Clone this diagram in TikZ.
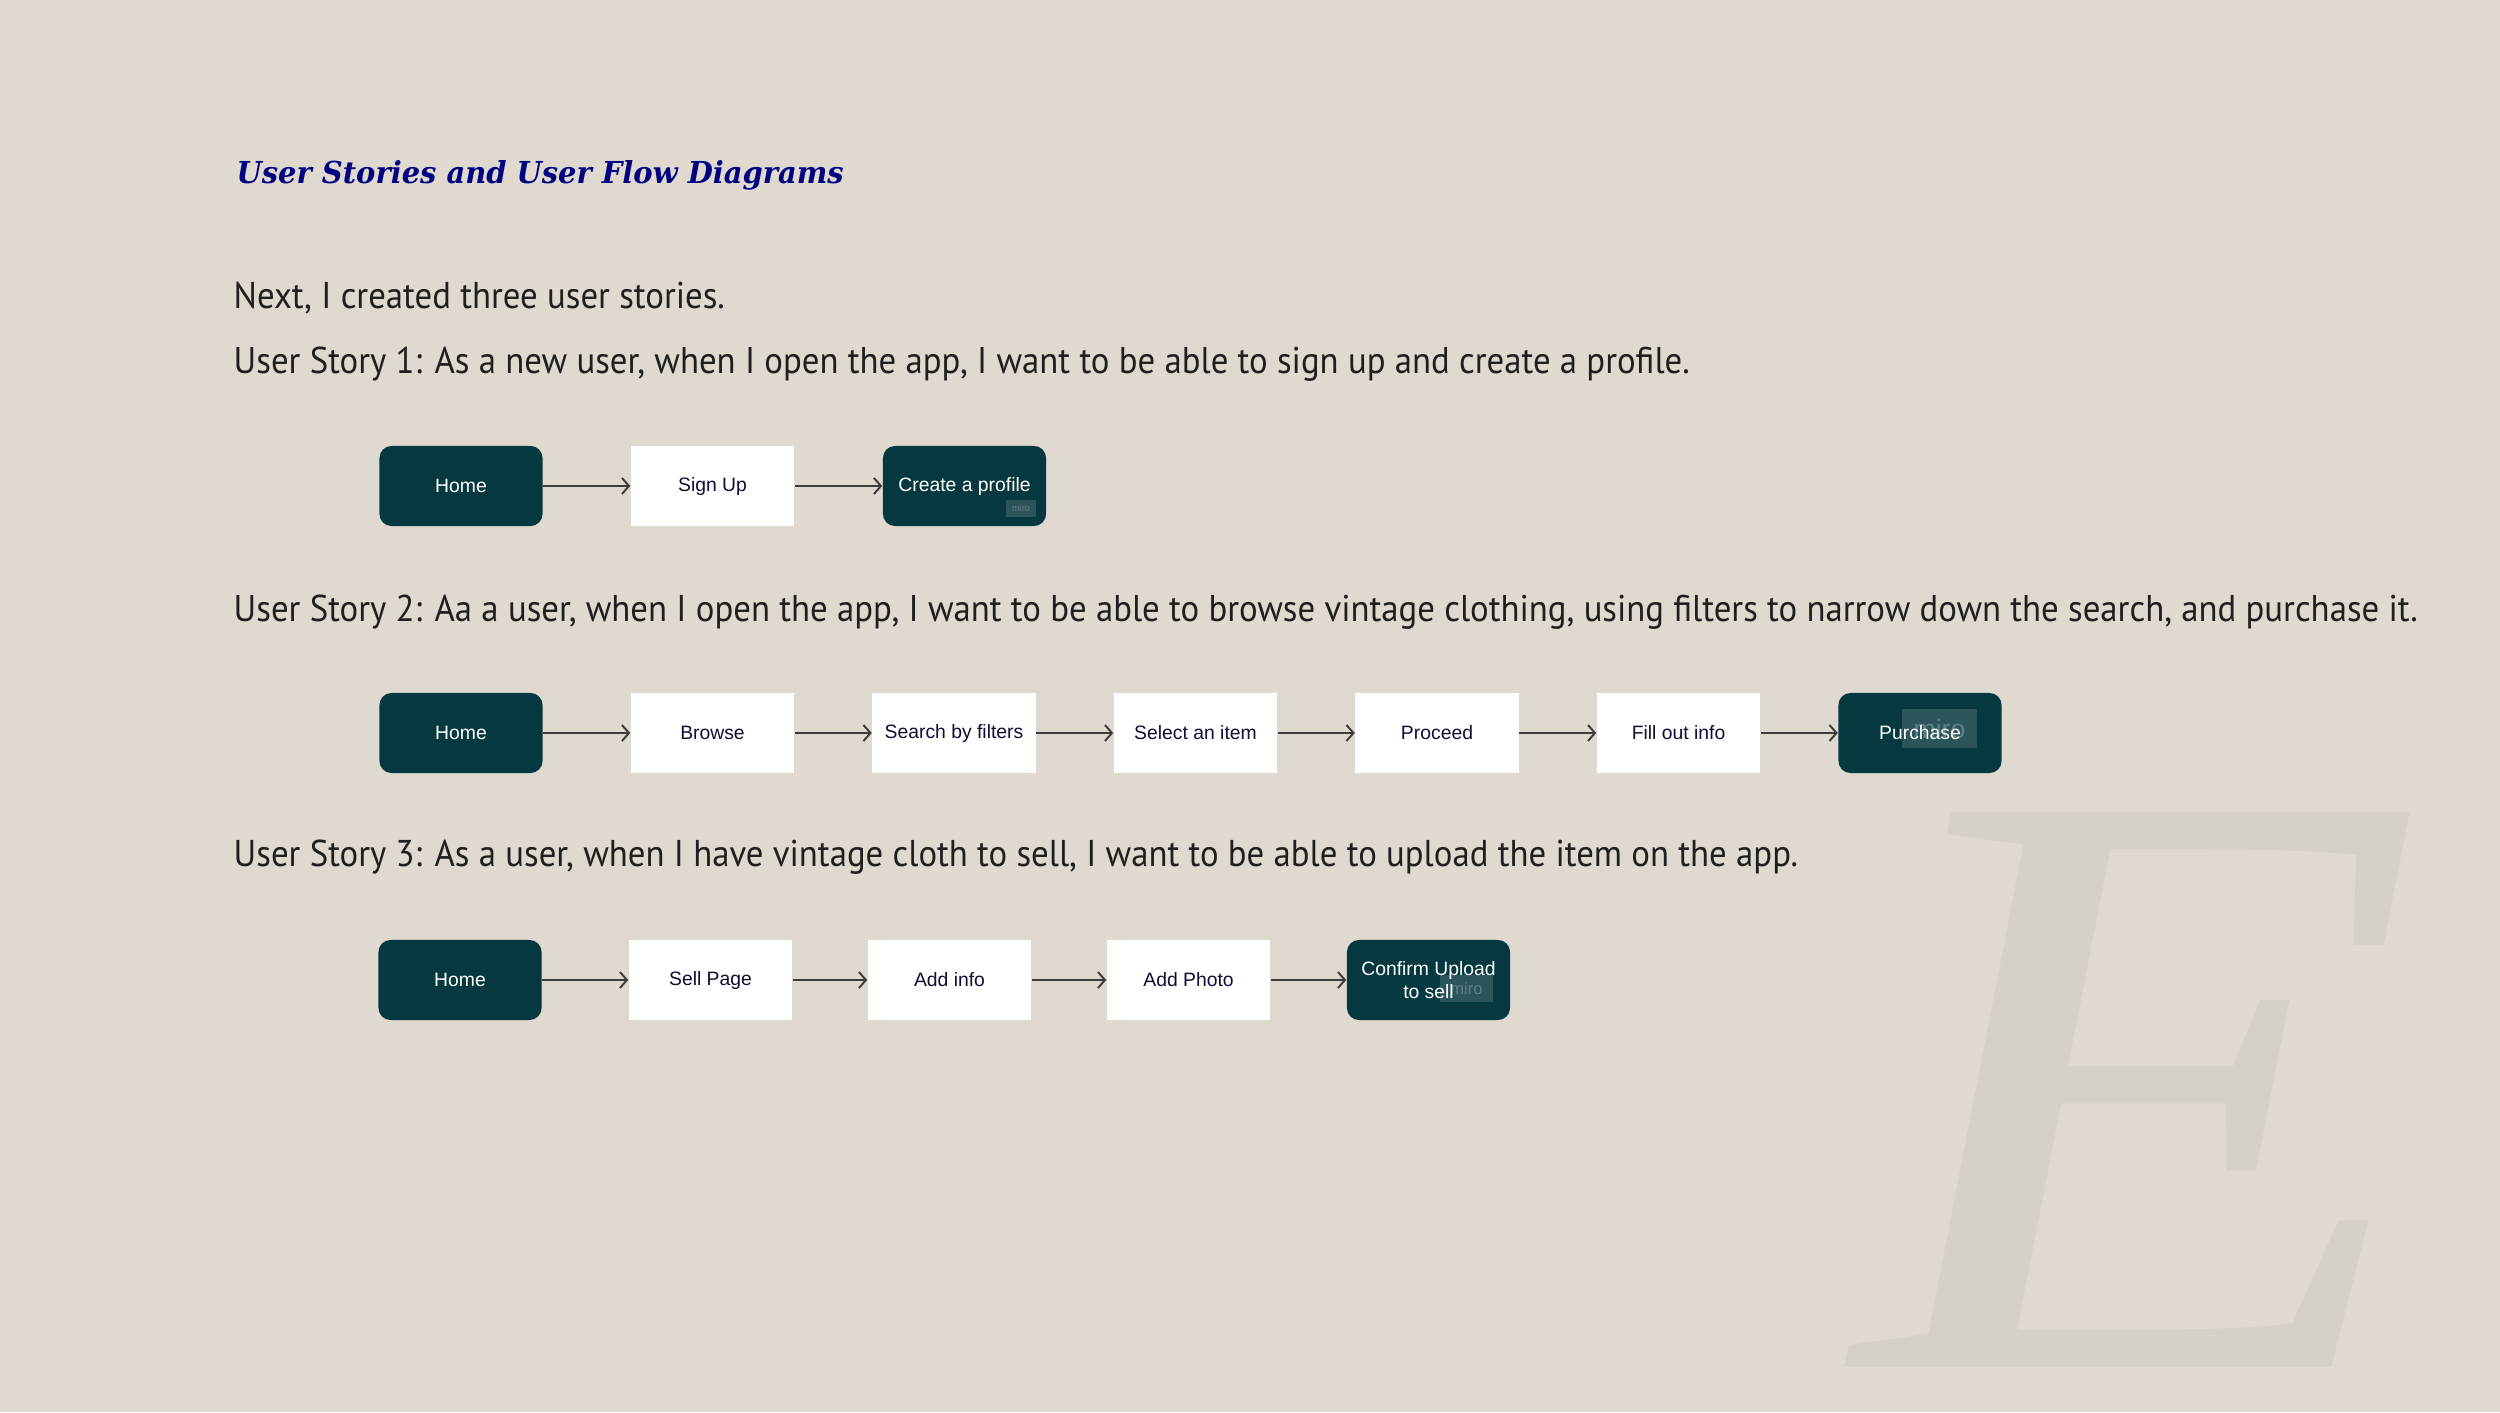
\documentclass[tikz,border=0pt]{standalone}
\usepackage{fontspec}
\setmainfont{PT Sans}[FakeStretch=0.933]
\newfontfamily\boxfont{Liberation Sans}
\newfontfamily\headfont{DejaVu Serif}[FakeStretch=0.957]
\newfontfamily\bigfont{Liberation Serif}[FakeStretch=1.1]
\usetikzlibrary{arrows.meta}
\definecolor{paper}{RGB}{223,217,207}
\definecolor{bigE}{RGB}{213,209,199}
\definecolor{deepteal}{RGB}{6,56,63}
\definecolor{inkblue}{RGB}{0,0,128}
\definecolor{boxink}{RGB}{14,14,52}
\definecolor{flowline}{RGB}{60,60,60}
\begin{document}
\begin{tikzpicture}[x=0.01cm,y=-0.01cm]
    \tikzstyle{every node}+=[inner sep=0pt]
    \tikzstyle{darkbox}=[fill=deepteal, rounded corners=0.12cm, minimum width=1.63cm, minimum height=0.8cm, text=white, font=\boxfont\fontsize{5.5}{6.3}\selectfont, align=center]
    \tikzstyle{whitebox}=[fill=white, minimum width=1.63cm, minimum height=0.8cm, text=boxink, font=\boxfont\fontsize{5.5}{6.3}\selectfont]
    \tikzstyle{story}=[anchor=base west, text=black!88, font=\fontsize{10.6}{12}\selectfont]
    \tikzstyle{flow}=[draw=flowline, line width=0.55pt, -{Straight Barb[length=0.07cm,width=0.16cm]}]
    \tikzstyle{miro}=[fill=white, fill opacity=0.15, text opacity=0.25, text=white, font=\boxfont]
    \useasboundingbox (0,0) rectangle (2500,1412);
    \fill [paper] (0,0) rectangle (2500,1412);
    \node [text=bigE, font=\bigfont\itshape\fontsize{241}{241}\selectfont] (E) at (2140,1090) {E};
    \node [anchor=base west, text=inkblue, font=\headfont\bfseries\itshape\fontsize{8.6}{10}\selectfont] (title) at (236,183) {User Stories and User Flow Diagrams};
    \node [story] (intro) at (233,308) {Next, I created three user stories.};
    \node [story] (us1) at (233,373) {User Story 1: As a new user, when I open the app, I want to be able to sign up and create a profile.};
    \node [story] (us2) at (233,621) {User Story 2: Aa a user, when I open the app, I want to be able to browse vintage clothing, using filters to narrow down the search, and purchase it.};
    \node [story] (us3) at (233,866) {User Story 3: As a user, when I have vintage cloth to sell, I want to be able to upload the item on the app.};
    \node [darkbox] (home1) at (461,486) {Home};
    \node [whitebox] (signup) at (712.5,486) {Sign Up};
    \node [darkbox] (profile) at (964.5,486) {Create a profile};
    \node [miro, minimum width=0.3cm, minimum height=0.17cm, font=\boxfont\fontsize{2.6}{3}\selectfont] (miro1) at (1021,508.5) {miro};
    \draw [flow] (home1) -- (signup);
    \draw [flow] (signup) -- (profile);
    \node [darkbox] (home2) at (461,733) {Home};
    \node [whitebox] (browse) at (712.5,733) {Browse};
    \node [whitebox] (filters) at (954,733) {Search by filters};
    \node [whitebox] (select) at (1195.5,733) {Select an item};
    \node [whitebox] (proceed) at (1437,733) {Proceed};
    \node [whitebox] (fillout) at (1678.5,733) {Fill out info};
    \node [darkbox] (purchase) at (1920,733) {Purchase};
    \node [miro, minimum width=0.75cm, minimum height=0.39cm, font=\boxfont\fontsize{7.6}{8}\selectfont] (miro2) at (1939.5,728.5) {miro};
    \draw [flow] (home2) -- (browse);
    \draw [flow] (browse) -- (filters);
    \draw [flow] (filters) -- (select);
    \draw [flow] (select) -- (proceed);
    \draw [flow] (proceed) -- (fillout);
    \draw [flow] (fillout) -- (purchase);
    \node [darkbox] (home3) at (460,980) {Home};
    \node [whitebox] (sellpage) at (710.5,980) {Sell Page};
    \node [whitebox] (addinfo) at (949.5,980) {Add info};
    \node [whitebox] (addphoto) at (1188.5,980) {Add Photo};
    \node [darkbox] (confirm) at (1428.5,980) {Confirm Upload\\to sell};
    \node [miro, minimum width=0.53cm, minimum height=0.27cm, font=\boxfont\fontsize{4.7}{5}\selectfont] (miro3) at (1466.5,988.5) {miro};
    \draw [flow] (home3) -- (sellpage);
    \draw [flow] (sellpage) -- (addinfo);
    \draw [flow] (addinfo) -- (addphoto);
    \draw [flow] (addphoto) -- (confirm);
\end{tikzpicture}
\end{document}
